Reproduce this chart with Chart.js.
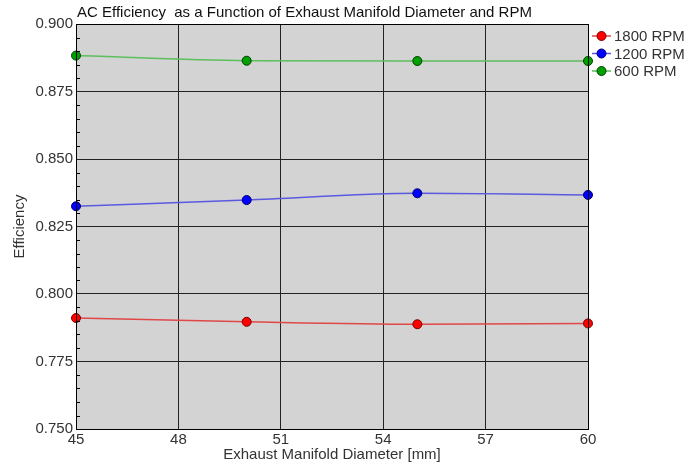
<!DOCTYPE html>
<html>
<head>
<meta charset="utf-8">
<script src="https://cdn.jsdelivr.net/npm/chart.js@4.4.1/dist/chart.umd.min.js"></script>
<style>
  html, body { margin: 0; padding: 0; background: #fff; }
  #wrap { width: 691px; height: 469px; }
</style>
</head>
<body>
<div id="wrap"><canvas id="chart"></canvas></div>
<script>
// Efficiency vs exhaust manifold diameter, one series per engine speed
const diameters = [45, 50, 55, 60];
const eff1800 = [0.7911, 0.7897, 0.7888, 0.7891];
const eff1200 = [0.8325, 0.8348, 0.8373, 0.8367];
const eff600 = [0.8883, 0.8864, 0.8863, 0.8863];
const seriesLabels = ['1800 RPM', '1200 RPM', '600 RPM'];

const FONT = 'Liberation Sans, Arial, sans-serif';
const TEXT = '#333';

const toPoints = (ys) => diameters.map((x, i) => ({ x, y: ys[i] }));

const series = [
    { data: eff1800, line: '#e04848', fill: '#ff0000', edge: '#7a0000' },
    { data: eff1200, line: '#5a5ae0', fill: '#0000ff', edge: '#00006a' },
    { data: eff600, line: '#5cbf5c', fill: '#00a000', edge: '#004000' },
];

// grey plot panel, outer frame and small inside ticks every 0.005
const plotFrame = {
    id: 'plotFrame',
    beforeDraw(chart) {
        const { ctx, chartArea: a } = chart;
        ctx.save();
        ctx.fillStyle = '#d3d3d3';
        ctx.fillRect(a.left, a.top, a.right - a.left, a.bottom - a.top);
        ctx.restore();
    },
    afterDatasetsDraw(chart) {
        const { ctx, chartArea: a, scales } = chart;
        ctx.save();
        ctx.strokeStyle = '#000';
        ctx.lineWidth = 1;
        ctx.beginPath();
        for (let v = 750; v <= 900; v += 5) {
            if (v % 25 === 0) continue;
            const y = Math.round(scales.y.getPixelForValue(v / 1000)) + 0.5;
            ctx.moveTo(a.left, y);
            ctx.lineTo(a.left + 4, y);
        }
        ctx.stroke();
        ctx.strokeRect(Math.round(a.left) + 0.5, Math.round(a.top) + 0.5,
            Math.round(a.right - a.left), Math.round(a.bottom - a.top));
        ctx.restore();
    },
    afterDraw(chart) {
        const { ctx, chartArea: a } = chart;
        ctx.save();
        ctx.font = '15px ' + FONT;
        ctx.fillStyle = '#111';
        ctx.textBaseline = 'middle';
        ctx.fillText('AC Efficiency  as a Function of Exhaust Manifold Diameter and RPM', a.left + 1, 13);

        // legend: short line with a marker, then the label
        chart.data.datasets.forEach((ds, i) => {
            const y = 36 + i * 17.5;
            ctx.strokeStyle = ds.borderColor;
            ctx.lineWidth = 1.5;
            ctx.beginPath();
            ctx.moveTo(a.right + 4, y);
            ctx.lineTo(a.right + 23, y);
            ctx.stroke();
            ctx.beginPath();
            ctx.arc(a.right + 13.5, y, 4.5, 0, Math.PI * 2);
            ctx.fillStyle = ds.pointBackgroundColor;
            ctx.fill();
            ctx.strokeStyle = ds.pointBorderColor;
            ctx.lineWidth = 1;
            ctx.stroke();
            ctx.fillStyle = TEXT;
            ctx.fillText(ds.label, a.right + 26, y + 1);
        });
        ctx.restore();
    },
};

new Chart(document.getElementById('chart'), {
    type: 'line',
    data: {
        datasets: series.map((s, i) => ({
            label: seriesLabels[i],
            data: toPoints(s.data),
            borderColor: s.line,
            borderWidth: 1.5,
            pointBackgroundColor: s.fill,
            pointBorderColor: s.edge,
            pointBorderWidth: 1,
            pointRadius: 4.5,
            cubicInterpolationMode: 'monotone',
            clip: false,
        })),
    },
    options: {
        responsive: true,
        maintainAspectRatio: false,
        animation: false,
        events: [],
        layout: { padding: { top: 24, right: 103, left: 0, bottom: 0 } },
        plugins: { legend: { display: false }, title: { display: false }, tooltip: { enabled: false } },
        scales: {
            x: {
                type: 'linear',
                min: 45,
                max: 60,
                afterFit: (s) => { s.height = 40; },
                ticks: { stepSize: 3, color: TEXT, padding: 2, font: { family: FONT, size: 15 } },
                grid: { color: '#222', lineWidth: 1, drawTicks: false },
                border: { color: '#000' },
                title: { display: true, text: 'Exhaust Manifold Diameter [mm]', color: TEXT,
                    font: { family: FONT, size: 15 }, padding: { top: 0, bottom: 5 } },
            },
            y: {
                type: 'linear',
                min: 0.75,
                max: 0.9,
                afterFit: (s) => { s.width = 76; },
                ticks: { stepSize: 0.025, color: TEXT, padding: 3, font: { family: FONT, size: 15 },
                    callback: (v) => v.toFixed(3) },
                grid: { color: '#222', lineWidth: 1, drawTicks: false },
                border: { color: '#000' },
                title: { display: true, text: 'Efficiency', color: TEXT,
                    font: { family: FONT, size: 15 }, padding: { top: 11, bottom: 0 } },
            },
        },
    },
    plugins: [plotFrame],
});
</script>
</body>
</html>
